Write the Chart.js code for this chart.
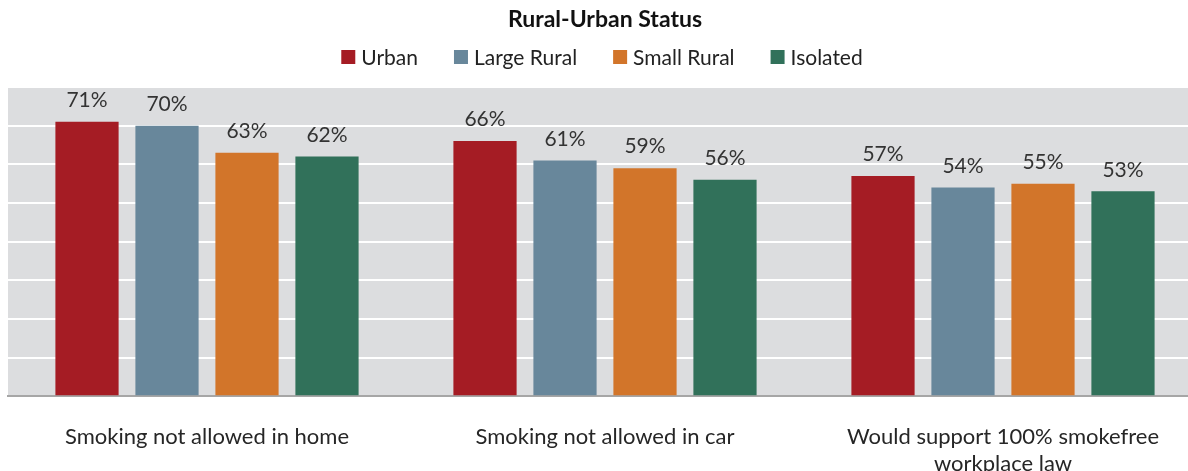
<!DOCTYPE html>
<html>
<head>
<meta charset="utf-8">
<script src="https://cdn.jsdelivr.net/npm/chart.js@4"></script>
<style>
html,body{margin:0;padding:0;background:#fff;overflow:hidden;}
#wrap{position:absolute;left:0;top:0;width:1204px;height:508px;}
</style>
</head>
<body>
<div id="wrap"><canvas id="c"></canvas></div>
<script>
const categories = [
  "Smoking not allowed in home",
  "Smoking not allowed in car",
  ["Would support 100% smokefree", "workplace law"]
];
const seriesNames = ["Urban", "Large Rural", "Small Rural", "Isolated"];
const urban = [71, 66, 57];
const largeRural = [70, 61, 54];
const smallRural = [63, 59, 55];
const isolated = [62, 56, 53];
const colors = ["#a51c24", "#68879b", "#d2752a", "#31715a"];
const yTicks = [0, 10, 20, 30, 40, 50, 60, 70, 80];

const FONT = "Lato, 'Open Sans', sans-serif";

const bgPlugin = {
  id: 'plotBg',
  beforeDraw(chart) {
    const a = chart.chartArea, ctx = chart.ctx;
    ctx.save();
    ctx.fillStyle = '#dcdddf';
    ctx.fillRect(a.left, a.top, a.right - a.left, a.bottom - a.top);
    ctx.restore();
  }
};
const labelPlugin = {
  id: 'valueLabels',
  afterDatasetsDraw(chart) {
    const ctx = chart.ctx;
    ctx.save();
    ctx.font = "21px " + FONT;
    ctx.fillStyle = '#333333';
    ctx.textAlign = 'center';
    ctx.textBaseline = 'bottom';
    chart.data.datasets.forEach((ds, i) => {
      chart.getDatasetMeta(i).data.forEach((bar, j) => {
        ctx.fillText(ds.data[j] + '%', bar.x, bar.y - 11);
      });
    });
    ctx.restore();
  }
};
const legendPlugin = {
  id: 'customLegend',
  afterDraw(chart) {
    const ctx = chart.ctx;
    ctx.save();
    ctx.font = "21px " + FONT;
    ctx.textBaseline = 'middle';
    ctx.textAlign = 'left';
    const box = 14, gap = 6, spacing = 36, cy = 57;
    const items = chart.data.datasets.map(ds => ({ text: ds.label, color: ds.backgroundColor, w: ctx.measureText(ds.label).width }));
    const total = items.reduce((s, it) => s + box + gap + it.w, 0) + spacing * (items.length - 1);
    let x = chart.width / 2 - total / 2;
    items.forEach(it => {
      ctx.fillStyle = it.color;
      ctx.fillRect(x, cy - box / 2, box, box);
      ctx.fillStyle = '#222';
      ctx.fillText(it.text, x + box + gap, cy + 1);
      x += box + gap + it.w + spacing;
    });
    ctx.restore();
  }
};

const seriesData = [urban, largeRural, smallRural, isolated];
new Chart(document.getElementById('c'), {
  type: 'bar',
  data: {
    labels: categories,
    datasets: seriesNames.map((n, i) => ({
      label: n,
      data: seriesData[i],
      backgroundColor: colors[i],
      borderWidth: 0,
      categoryPercentage: 0.804,
      barPercentage: 0.79
    }))
  },
  options: {
    responsive: true,
    maintainAspectRatio: false,
    animation: false,
    layout: { padding: { left: 8, right: 2, top: 0, bottom: 3 } },
    plugins: {
      title: {
        display: true,
        text: 'Rural-Urban Status',
        color: '#111',
        font: { family: FONT, size: 23, weight: 'bold', lineHeight: 1.2 },
        padding: { top: 6, bottom: 53.4 }
      },
      legend: { display: false },
      tooltip: { enabled: false }
    },
    scales: {
      x: {
        grid: { display: false, drawTicks: false },
        border: { display: true, color: '#a6a6a6', width: 2 },
        ticks: {
          color: '#262626',
          font: { family: FONT, size: 22, lineHeight: 1.2 },
          padding: 28,
          maxRotation: 0,
          autoSkip: false
        }
      },
      y: {
        min: 0,
        max: 80,
        afterBuildTicks(axis) { axis.ticks = yTicks.map(v => ({ value: v })); },
        ticks: { display: false },
        grid: { color: '#ffffff', lineWidth: 2, drawTicks: false },
        border: { display: false }
      }
    }
  },
  plugins: [bgPlugin, labelPlugin, legendPlugin]
});
</script>
</body>
</html>
